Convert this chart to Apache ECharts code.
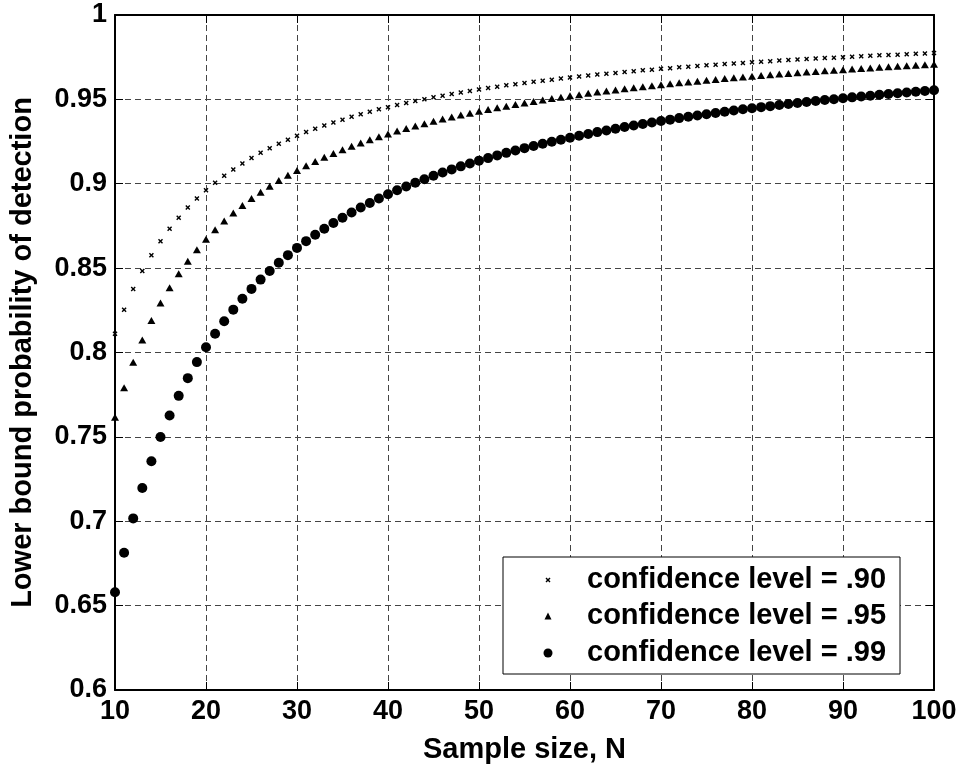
<!DOCTYPE html>
<html>
<head>
<meta charset="utf-8" />
<script src="https://cdn.jsdelivr.net/npm/echarts@6/dist/echarts.min.js"></script>
<style>
  body,
  html {
    margin: 0;
    padding: 0;
    background: #fff;
  }
  #chart {
    width: 960px;
    height: 769px;
  }
</style>
</head>
<body>
<div id="chart"></div>
<script>
  // Sample sizes on the x axis
  var sampleSize = [
    10, 11, 12, 13, 14, 15, 16, 17, 18, 19,
    20, 21, 22, 23, 24, 25, 26, 27, 28, 29,
    30, 31, 32, 33, 34, 35, 36, 37, 38, 39,
    40, 41, 42, 43, 44, 45, 46, 47, 48, 49,
    50, 51, 52, 53, 54, 55, 56, 57, 58, 59,
    60, 61, 62, 63, 64, 65, 66, 67, 68, 69,
    70, 71, 72, 73, 74, 75, 76, 77, 78, 79,
    80, 81, 82, 83, 84, 85, 86, 87, 88, 89,
    90, 91, 92, 93, 94, 95, 96, 97, 98, 99,
    100
  ];

  // lower bound POD, confidence .90
  var conf90 = [
    0.8111, 0.8254, 0.8377, 0.8483, 0.8577, 0.8660, 0.8733, 0.8799, 0.8859, 0.8913,
    0.8962, 0.9006, 0.9047, 0.9085, 0.9120, 0.9152, 0.9183, 0.9211, 0.9237, 0.9261,
    0.9284, 0.9306, 0.9326, 0.9345, 0.9363, 0.9380, 0.9397, 0.9412, 0.9427, 0.9441,
    0.9454, 0.9467, 0.9479, 0.9490, 0.9501, 0.9512, 0.9522, 0.9532, 0.9541, 0.9550,
    0.9559, 0.9567, 0.9575, 0.9583, 0.9590, 0.9597, 0.9604, 0.9611, 0.9617, 0.9624,
    0.9630, 0.9635, 0.9641, 0.9647, 0.9652, 0.9657, 0.9662, 0.9667, 0.9672, 0.9676,
    0.9681, 0.9685, 0.9690, 0.9694, 0.9698, 0.9702, 0.9705, 0.9709, 0.9713, 0.9716,
    0.9720, 0.9723, 0.9726, 0.9730, 0.9733, 0.9736, 0.9739, 0.9742, 0.9745, 0.9747,
    0.9750, 0.9753, 0.9755, 0.9758, 0.9761, 0.9763, 0.9765, 0.9768, 0.9770, 0.9772,
    0.9775
  ];

  // confidence .95
  var conf95 = [
    0.7616, 0.7791, 0.7942, 0.8074, 0.8190, 0.8293, 0.8384, 0.8467, 0.8541, 0.8609,
    0.8671, 0.8727, 0.8779, 0.8827, 0.8871, 0.8912, 0.8950, 0.8985, 0.9019, 0.9050,
    0.9079, 0.9106, 0.9132, 0.9157, 0.9180, 0.9202, 0.9222, 0.9242, 0.9261, 0.9278,
    0.9295, 0.9312, 0.9327, 0.9342, 0.9356, 0.9370, 0.9383, 0.9395, 0.9407, 0.9418,
    0.9430, 0.9440, 0.9450, 0.9460, 0.9470, 0.9479, 0.9488, 0.9497, 0.9505, 0.9513,
    0.9521, 0.9528, 0.9536, 0.9543, 0.9550, 0.9556, 0.9563, 0.9569, 0.9575, 0.9581,
    0.9587, 0.9592, 0.9598, 0.9603, 0.9608, 0.9613, 0.9618, 0.9623, 0.9628, 0.9632,
    0.9637, 0.9641, 0.9646, 0.9650, 0.9654, 0.9658, 0.9662, 0.9665, 0.9669, 0.9673,
    0.9676, 0.9680, 0.9683, 0.9686, 0.9690, 0.9693, 0.9696, 0.9699, 0.9702, 0.9705,
    0.9708
  ];

  // confidence .99
  var conf99 = [
    0.6579, 0.6813, 0.7017, 0.7197, 0.7356, 0.7499, 0.7627, 0.7743, 0.7848, 0.7943,
    0.8031, 0.8111, 0.8185, 0.8254, 0.8318, 0.8377, 0.8432, 0.8483, 0.8532, 0.8577,
    0.8620, 0.8660, 0.8698, 0.8733, 0.8767, 0.8799, 0.8830, 0.8859, 0.8886, 0.8913,
    0.8938, 0.8962, 0.8984, 0.9006, 0.9027, 0.9047, 0.9067, 0.9085, 0.9103, 0.9120,
    0.9137, 0.9152, 0.9168, 0.9183, 0.9197, 0.9211, 0.9224, 0.9237, 0.9249, 0.9261,
    0.9273, 0.9284, 0.9295, 0.9306, 0.9316, 0.9326, 0.9336, 0.9345, 0.9354, 0.9363,
    0.9372, 0.9380, 0.9389, 0.9397, 0.9404, 0.9412, 0.9419, 0.9427, 0.9434, 0.9441,
    0.9447, 0.9454, 0.9460, 0.9467, 0.9473, 0.9479, 0.9484, 0.9490, 0.9496, 0.9501,
    0.9507, 0.9512, 0.9517, 0.9522, 0.9527, 0.9532, 0.9536, 0.9541, 0.9545, 0.9550,
    0.9554
  ];

  var seriesNames = [
    "confidence level = .90",
    "confidence level = .95",
    "confidence level = .99"
  ];

  var font = "'Liberation Sans', Arial, Helvetica, sans-serif";
  var crossIcon = "path://M0,2L2,0L5,3L8,0L10,2L7,5L10,8L8,10L5,7L2,10L0,8L3,5Z";

  function pairs(ys) {
    return sampleSize.map(function (n, i) {
      return [n, ys[i]];
    });
  }

  // one legend per row so each icon can have its own size
  function legendRow(name, icon, size, rowCenter) {
    return {
      data: [{ name: name, icon: icon }],
      orient: "vertical",
      left: 548 - size / 2,
      top: rowCenter - 15,
      padding: 0,
      itemWidth: size,
      itemHeight: size,
      selectedMode: false,
      z: 6,
      itemStyle: { opacity: 1 },
      textStyle: {
        fontFamily: font,
        fontWeight: "bold",
        fontSize: 29,
        color: "#000",
        lineHeight: 30,
        padding: [0, 0, 0, 34 - size / 2]
      }
    };
  }

  var labelStyle = { fontFamily: font, fontWeight: "bold", fontSize: 27, color: "#000" };
  var nameStyle = { fontFamily: font, fontWeight: "bold", fontSize: 29, color: "#000" };
  var boxLine = { onZero: false, lineStyle: { color: "#000", width: 2 } };
  var tickIn = { inside: true, length: 8, lineStyle: { color: "#000", width: 1 } };
  var gridDash = { show: true, lineStyle: { color: "#444", width: 1, type: [6, 4] } };

  var chart = echarts.init(document.getElementById("chart"));

  chart.setOption({
    animation: false,
    backgroundColor: "#fff",
    grid: { left: 111, right: 26, top: 15, bottom: 74 },
    xAxis: [
      {
        type: "value",
        position: "bottom",
        min: 10,
        max: 100,
        interval: 10,
        name: "Sample size, N",
        nameLocation: "middle",
        nameGap: 45,
        nameTextStyle: nameStyle,
        axisLine: boxLine,
        axisTick: tickIn,
        axisLabel: Object.assign({ margin: 8 }, labelStyle),
        splitLine: gridDash
      },
      {
        type: "value",
        position: "top",
        min: 10,
        max: 100,
        interval: 10,
        axisLine: boxLine,
        axisTick: tickIn,
        axisLabel: { show: false },
        splitLine: { show: false }
      }
    ],
    yAxis: [
      {
        type: "value",
        position: "left",
        min: 0.6,
        max: 1,
        interval: 0.05,
        name: "Lower bound probability of detection",
        nameLocation: "middle",
        nameRotate: 90,
        nameGap: 78,
        nameTextStyle: nameStyle,
        axisLine: boxLine,
        axisTick: tickIn,
        axisLabel: Object.assign({ margin: 8 }, labelStyle),
        splitLine: gridDash
      },
      {
        type: "value",
        position: "right",
        min: 0.6,
        max: 1,
        interval: 0.05,
        axisLine: boxLine,
        axisTick: tickIn,
        axisLabel: { show: false },
        splitLine: { show: false }
      }
    ],
    legend: [
      legendRow(seriesNames[0], crossIcon, 5, 580),
      legendRow(seriesNames[1], "triangle", 7, 616),
      legendRow(seriesNames[2], "circle", 9, 653)
    ],
    graphic: {
      elements: [
        {
          type: "rect",
          z: 5,
          shape: { x: 503, y: 557, width: 397, height: 117 },
          style: { fill: "#fff", stroke: "#000", lineWidth: 1 }
        }
      ]
    },
    series: [
      {
        name: seriesNames[0],
        type: "scatter",
        clip: false,
        symbol: crossIcon,
        symbolSize: 5,
        itemStyle: { color: "#000", opacity: 1 },
        data: pairs(conf90)
      },
      {
        name: seriesNames[1],
        type: "scatter",
        clip: false,
        symbol: "triangle",
        symbolSize: [8, 7],
        itemStyle: { color: "#000", opacity: 1 },
        data: pairs(conf95)
      },
      {
        name: seriesNames[2],
        type: "scatter",
        clip: false,
        symbol: "circle",
        symbolSize: 10,
        itemStyle: { color: "#000", opacity: 1 },
        data: pairs(conf99)
      }
    ]
  });
</script>
</body>
</html>
